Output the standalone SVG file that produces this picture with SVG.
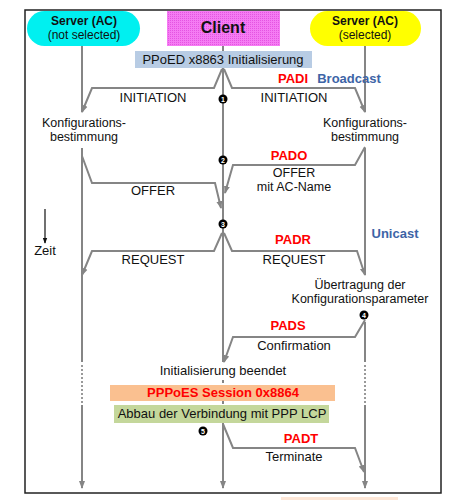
<svg xmlns="http://www.w3.org/2000/svg" width="449" height="500" viewBox="0 0 449 500">
<style>
text{font-family:"Liberation Sans",Arial,sans-serif;font-size:13px;fill:#111;text-anchor:middle}
.b{font-weight:bold}
.s{font-size:12px}
.m{font-size:12.5px}
.red{fill:#ff0000;font-weight:bold}
.blue{fill:#3d64a6;font-weight:bold}
.num{fill:#fff;font-size:7px;font-weight:bold}
.ln{fill:none;stroke:#858585;stroke-width:2}
.msg{fill:none;stroke:#858585;stroke-width:2;stroke-linejoin:miter;marker-end:url(#ah)}
.dot{fill:none;stroke:#999;stroke-width:2;stroke-dasharray:2 2}
</style>
<defs>
<marker id="ah" viewBox="0 0 8 8" refX="7" refY="4" markerWidth="4" markerHeight="4" orient="auto" markerUnits="strokeWidth">
<path d="M0,1 L8,4 L0,7 Z" fill="#858585"/>
</marker>
<marker id="ak" viewBox="0 0 8 8" refX="7" refY="4" markerWidth="6" markerHeight="6" orient="auto" markerUnits="userSpaceOnUse">
<path d="M0,1 L8,4 L0,7 Z" fill="#111"/>
</marker>
<pattern id="pink" width="2" height="2" patternUnits="userSpaceOnUse">
<rect width="2" height="2" fill="#f57cf3"/>
<rect width="1" height="1" fill="#e554e2"/>
</pattern>
</defs>
<rect x="25" y="10" width="416" height="483" fill="#fff" stroke="#222" stroke-width="1.5"/>
<rect x="281" y="497" width="117" height="6" fill="#fde6d6"/>

<g id="connectors">
<path class="ln" d="M82,46 V112 M82,148 V362 M223,46 V51 M223,68 V362 M365,46 V112 M365,148 V275 M365,322 V362 M223,423 V470"/>
<path class="dot" d="M82,365 V403 M365,365 V403"/>
<path class="ln" d="M223,380 V383 M223,401 V404"/>
<path class="msg" d="M82,405 V488"/>
<path class="msg" d="M223,423 V488"/>
<path class="msg" d="M365,405 V488"/>
<path class="msg" d="M222,69 L214,88 L92,88 L82,112"/>
<path class="msg" d="M224,69 L232,88 L355,88 L365,112"/>
<path class="msg" d="M82,156 L92,183 L215,183 L221,208"/>
<path class="msg" d="M365,147 L355,165 L233,165 L225,193"/>
<path class="msg" d="M222,233 L214,251 L92,251 L82,275"/>
<path class="msg" d="M224,233 L232,251 L357,251 L365,275"/>
<path class="msg" d="M365,320 L355,337 L233,337 L224,362"/>
<path class="msg" d="M223,424 L233,448 L355,448 L364,472"/>
<line x1="45" y1="209" x2="45" y2="243" stroke="#111" stroke-width="1.2" marker-end="url(#ak)"/>
</g>

<g id="server-not-selected">
<rect x="27" y="11" width="113" height="35" rx="17.5" fill="#00f0f0"/>
<text x="84" y="24.5" class="b s">Server (AC)</text>
<text x="84" y="38.5" class="s">(not selected)</text>
</g>
<g id="client">
<rect x="167" y="11" width="113" height="35" fill="url(#pink)"/>
<text x="223" y="33" class="b" style="font-size:16px">Client</text>
</g>
<g id="server-selected">
<rect x="310" y="11" width="111" height="35" rx="17.5" fill="#ffff00"/>
<text x="365" y="24.5" class="b s">Server (AC)</text>
<text x="365" y="38.5" class="s">(selected)</text>
</g>

<g id="init-box">
<rect x="135" y="51" width="177" height="17" fill="#b8cce4"/>
<text x="223" y="64">PPoED x8863 Initialisierung</text>
</g>

<g id="labels">
<text x="293" y="83" class="red">PADI</text>
<text x="349" y="83" class="blue">Broadcast</text>
<text x="153" y="102">INITIATION</text>
<text x="294" y="102">INITIATION</text>
<text x="84" y="127" class="m">Konfigurations-</text>
<text x="84" y="141" class="m">bestimmung</text>
<text x="365" y="127" class="m">Konfigurations-</text>
<text x="365" y="141" class="m">bestimmung</text>
<text x="289" y="160" class="red">PADO</text>
<text x="294" y="177" class="m">OFFER</text>
<text x="294" y="191" class="m">mit AC-Name</text>
<text x="153" y="195">OFFER</text>
<text x="395" y="238" class="blue">Unicast</text>
<text x="293" y="244" class="red">PADR</text>
<text x="45" y="255">Zeit</text>
<text x="153" y="264">REQUEST</text>
<text x="294" y="264">REQUEST</text>
<text x="360" y="289" class="m">Übertragung der</text>
<text x="360" y="303" class="m">Konfigurationsparameter</text>
<text x="288" y="330" class="red">PADS</text>
<text x="294" y="350">Confirmation</text>
<text x="223" y="375">Initialisierung beendet</text>
<text x="301" y="443" class="red">PADT</text>
<text x="294" y="461">Terminate</text>
</g>

<g id="session-box">
<rect x="110" y="385" width="225" height="16" fill="#fac090"/>
<text x="223" y="397" class="red">PPPoES Session 0x8864</text>
</g>
<g id="lcp-box">
<rect x="114" y="405" width="215" height="18" fill="#c4d79b"/>
<text x="222" y="418">Abbau der Verbindung mit PPP LCP</text>
</g>

<g id="steps">
<circle cx="223" cy="99" r="4.5" fill="#000"/><text x="223" y="101.5" class="num">1</text>
<circle cx="223" cy="160" r="4.5" fill="#000"/><text x="223" y="162.5" class="num">2</text>
<circle cx="223" cy="224" r="4.5" fill="#000"/><text x="223" y="226.5" class="num">3</text>
<circle cx="364" cy="315" r="4.5" fill="#000"/><text x="364" y="317.5" class="num">4</text>
<circle cx="203" cy="431" r="4.5" fill="#000"/><text x="203" y="433.5" class="num">5</text>
</g>
</svg>
